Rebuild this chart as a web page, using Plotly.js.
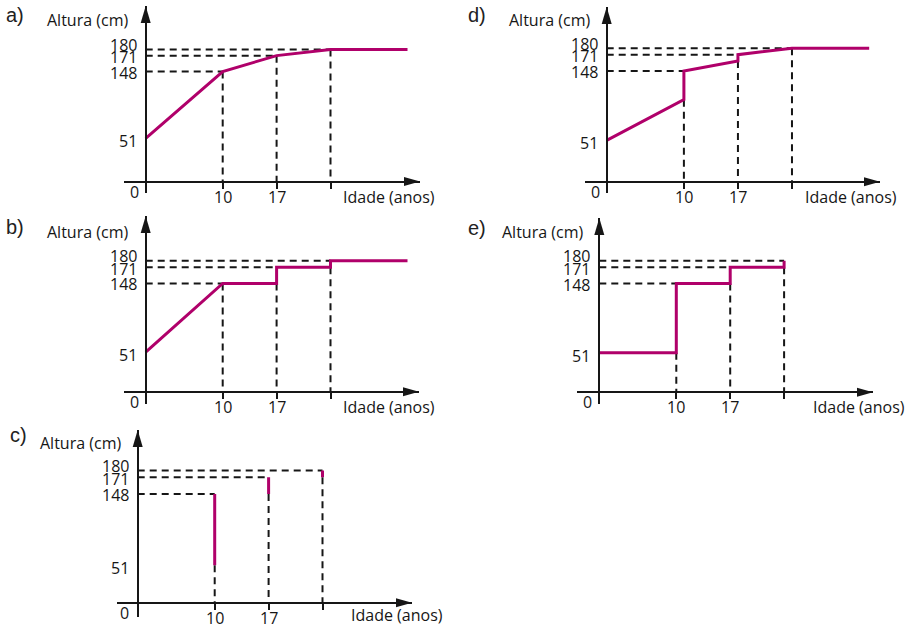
<!DOCTYPE html>
<html>
<head>
<meta charset="utf-8">
<script src="https://cdn.plot.ly/plotly-3.0.1.min.js"></script>
<style>html,body{margin:0;padding:0;background:#fff;}#chart{width:909px;height:625px;}</style>
</head>
<body>
<div id="chart"></div>
<script>
// ---------- data ----------
const ages = [10, 17, 24];            // ticks on the age axis (the 4th is unlabelled)
const ageLabels = ['10', '17', ''];
const heightTicks = [51, 148, 171, 180];
const heightLabels = ['51', '148', '171', '180'];
const horizHeights = [148, 171, 180];   // dashed horizontal guides, one per age

const aX = [0, 10, 17, 24, 34];
const aY = [51, 148, 171, 180, 180];
const bX = [0, 10, 17, 17, 24, 24, 34];
const bY = [51, 148, 148, 171, 171, 180, 180];
const cX = [10, 10, null, 17, 17, null, 24, 24];
const cY = [51, 148, null, 148, 171, null, 171, 180];
const dX = [0, 10, 10, 17, 17, 24, 34];
const dY = [51, 108, 148, 162, 171, 180, 180];
const eX = [0, 10, 10, 17, 17, 24, 24];
const eY = [51, 51, 148, 148, 171, 171, 180];

// lowest point of the curve at each age (start of the vertical dashed guide)
const aGuide = [148, 171, 180];
const bGuide = [148, 148, 171];
const cGuide = [51, 148, 171];
const dGuide = [108, 162, 180];
const eGuide = [51, 148, 171];

const panelLetters = ['a)', 'b)', 'c)', 'd)', 'e)'];

// ---------- geometry (pixels) ----------
const W = 909, H = 625;
const labelShift = [-3, -1, -1.5, 4.5];   // vertical nudge of the height labels (px)
const geo = [
  {ox:145.7, sx:7.7,  xl:124,   xr:420, pm:78.75, sy:0.69,  yt:6,   yb:193, row:181.5,
   letter:[15,15], alt:[130,20], idade:[341,197], zero:[134,192]},
  {ox:145.7, sx:7.7,  xl:124,   xr:419, pm:290.9, sy:0.707, yt:216, yb:404, row:391.7,
   letter:[15,227], alt:[130,232], idade:[341,407], zero:[134,402]},
  {ox:137.7, sx:7.7,  xl:116.7, xr:412, pm:501.75,sy:0.734, yt:430, yb:617, row:602.7,
   letter:[18,435], alt:[123,443], idade:[349,615], zero:[124,613]},
  {ox:606.7, sx:7.72, xl:585,   xr:880, pm:78.6,  sy:0.715, yt:7,   yb:193, row:181.7,
   letter:[477,15], alt:[592,20], idade:[803,197], zero:[595,192]},
  {ox:599.3, sx:7.7,  xl:577,   xr:873, pm:291.1, sy:0.712, yt:218, yb:404, row:392.3,
   letter:[477,228], alt:[585,232], idade:[811,407], zero:[587,402]}
];
const curves = [[aX,aY],[bX,bY],[cX,cY],[dX,dY],[eX,eY]];
const guides = [aGuide,bGuide,cGuide,dGuide,eGuide];

const MAG = '#b0006a';
const INK = '#161616';
const FONT = 'Open Sans, Noto Sans, sans-serif';
const px = x => x / W;
const py = y => 1 - y / H;

const data = [], shapes = [], annotations = [];
const layout = {
  width: W, height: H, margin: {l:0, r:0, t:0, b:0},
  paper_bgcolor: '#fff', plot_bgcolor: 'rgba(0,0,0,0)',
  showlegend: false, font: {family: FONT, size: 16, color: INK}
};
const txt = {family: FONT, size: 16, color: INK};

geo.forEach((g, i) => {
  const n = i + 1;
  const xa = 'x' + (n === 1 ? '' : n), ya = 'y' + (n === 1 ? '' : n);
  const xk = 'xaxis' + (n === 1 ? '' : n), yk = 'yaxis' + (n === 1 ? '' : n);
  const v = p => 137.5 + (g.pm - p) / g.sy;      // pixel row -> height value
  const xr0 = (g.xl - g.ox) / g.sx, xr1 = (g.xr - g.ox) / g.sx;
  const yr0 = v(g.yb), yr1 = v(g.yt), rowV = v(g.row);

  layout[xk] = {
    domain: [px(g.xl), px(g.xr)], range: [xr0, xr1], anchor: 'free', position: py(g.row),
    showline: true, linecolor: INK, linewidth: 2, showgrid: false, zeroline: false,
    ticks: 'outside', ticklen: 6, tickwidth: 2, tickcolor: INK,
    tickmode: 'array', tickvals: ages, showticklabels: false, fixedrange: true
  };
  layout[yk] = {
    domain: [py(g.yb), py(g.yt)], range: [yr0, yr1], anchor: 'free', position: px(g.ox),
    showline: true, linecolor: INK, linewidth: 2, showgrid: false, zeroline: false,
    ticks: '', showticklabels: false, fixedrange: true
  };

  // dashed guides
  const gx = [], gy = [];
  ages.forEach((a, k) => {
    gx.push(0, a, null, a, a, null);
    gy.push(horizHeights[k], horizHeights[k], null, guides[i][k], rowV, null);
  });
  data.push({x: gx, y: gy, xaxis: xa, yaxis: ya, mode: 'lines', hoverinfo: 'skip',
    line: {color: INK, width: 2, dash: '7px,5px'}});
  // curve
  data.push({x: curves[i][0], y: curves[i][1], xaxis: xa, yaxis: ya, mode: 'lines',
    line: {color: MAG, width: 3}, connectgaps: false});

  // arrowheads
  shapes.push({type: 'path', xref: xa, yref: ya, xsizemode: 'pixel', ysizemode: 'pixel',
    xanchor: 0, yanchor: yr1, path: 'M0,0 L-5,-17 L5,-17 Z', fillcolor: INK, line: {width: 0}});
  shapes.push({type: 'path', xref: xa, yref: ya, xsizemode: 'pixel', ysizemode: 'pixel',
    xanchor: xr1, yanchor: rowV, path: 'M0,0 L-16,4.5 L-16,-4.5 Z', fillcolor: INK, line: {width: 0}});

  // height tick labels
  heightTicks.forEach((h, k) => {
    annotations.push({xref: 'paper', yref: ya, x: px(g.ox - 7), y: h, yshift: labelShift[k],
      xanchor: 'right', yanchor: 'middle', showarrow: false, text: heightLabels[k], font: txt});
  });
  // age tick labels
  ages.forEach((a, k) => {
    if (!ageLabels[k]) return;
    annotations.push({xref: xa, yref: 'paper', x: a, y: py(g.row + 15),
      xanchor: 'center', yanchor: 'middle', showarrow: false, text: ageLabels[k], font: txt});
  });

  annotations.push({xref: 'paper', yref: 'paper', x: px(g.letter[0]), y: py(g.letter[1]),
    xanchor: 'center', yanchor: 'middle', showarrow: false, text: panelLetters[i],
    font: {family: 'Liberation Sans, Arial, sans-serif', size: 20, color: '#222'}});
  annotations.push({xref: 'paper', yref: 'paper', x: px(g.alt[0]), y: py(g.alt[1]),
    xanchor: 'right', yanchor: 'middle', showarrow: false, text: 'Altura (cm)', font: txt});
  annotations.push({xref: 'paper', yref: 'paper', x: px(g.idade[0]), y: py(g.idade[1]),
    xanchor: 'left', yanchor: 'middle', showarrow: false, text: 'Idade (anos)', font: txt});
  annotations.push({xref: 'paper', yref: 'paper', x: px(g.zero[0]), y: py(g.zero[1]),
    xanchor: 'center', yanchor: 'middle', showarrow: false, text: '0', font: txt});
});

layout.shapes = shapes;
layout.annotations = annotations;
Plotly.newPlot('chart', data, layout, {displayModeBar: false, staticPlot: true});
</script>
</body>
</html>
